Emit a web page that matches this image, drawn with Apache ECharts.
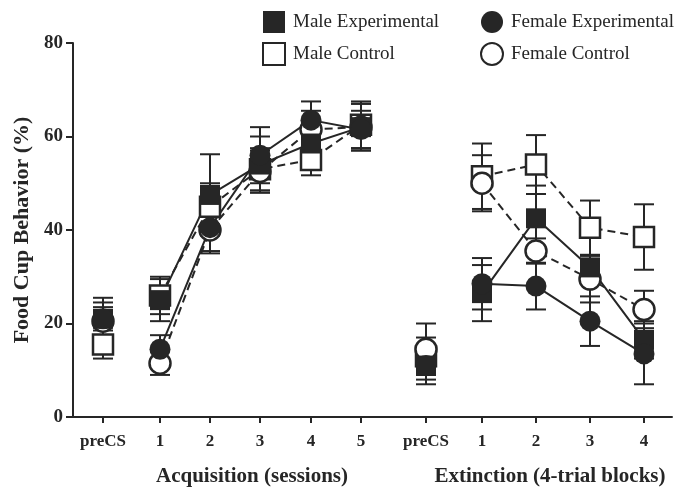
<!DOCTYPE html>
<html>
<head>
<meta charset="utf-8">
<script src="https://cdn.jsdelivr.net/npm/echarts@6/dist/echarts.min.js"></script>
<style>
  html, body { margin: 0; padding: 0; background: #fff; }
  #chart { width: 688px; height: 487px; }
</style>
</head>
<body>
<div id="chart"></div>
<script>
// x positions of the two phases (preCS + sessions / blocks)
var acqX = [0.86, 2, 3, 4, 5.02, 6.02];
var extX = [7.32, 8.44, 9.52, 10.6, 11.68];
var acqLabels = ['preCS', '1', '2', '3', '4', '5'];
var extLabels = ['preCS', '1', '2', '3', '4'];

// means (%) and SEM, acquisition phase
var maleExpAcq = [21, 25, 47.5, 54, 58.5, 62];
var maleExpAcqErr = [4.5, 4.5, 8.7, 6, 4, 5];
var maleCtlAcq = [15.5, 26, 45, 53, 55, 62.5];
var maleCtlAcqErr = [3, 4, 5, 4.5, 3.3, 5];
var femExpAcq = [21, 14.5, 40.5, 56, 63.5, 61.5];
var femExpAcqErr = [3.5, 3, 5, 6, 4, 4];
var femCtlAcq = [20.5, 11.5, 40, 52.5, 61.5, 62];
var femCtlAcqErr = [3, 2.5, 5, 4.5, 4, 5];

// means (%) and SEM, extinction phase
var maleExpExt = [11, 26.5, 42.5, 32, 16.5];
var maleExpExtErr = [4, 6, 7, 2.5, 4];
var maleCtlExt = [13, 51.5, 54, 40.5, 38.5];
var maleCtlExtErr = [4, 7, 6.3, 5.8, 7];
var femExpExt = [11, 28.5, 28, 20.5, 13.5];
var femExpExtErr = [3, 5.5, 5, 5.3, 6.5];
var femCtlExt = [14.5, 50, 35.5, 29.5, 23];
var femCtlExtErr = [5.5, 6, 2.7, 5, 4];

var ink = '#262626';
var serif = '"Liberation Serif", "DejaVu Serif", serif';

var allX = acqX.concat(extX);
var allLabels = acqLabels.concat(extLabels);

var chart = echarts.init(document.getElementById('chart'));

// line data: preCS points are not joined to the session points
function lineData(acq, ext) {
    var d = [[acqX[0], acq[0]], [acqX[0], '-']];
    for (var i = 1; i < acq.length; i++) d.push([acqX[i], acq[i]]);
    d.push([acqX[acq.length - 1], '-']);
    d.push([extX[0], ext[0]], [extX[0], '-']);
    for (var j = 1; j < ext.length; j++) d.push([extX[j], ext[j]]);
    return d;
}

function errData(acq, acqErr, ext, extErr) {
    var d = [];
    for (var i = 0; i < acq.length; i++) d.push([acqX[i], acq[i] - acqErr[i], acq[i] + acqErr[i]]);
    for (var j = 0; j < ext.length; j++) d.push([extX[j], ext[j] - extErr[j], ext[j] + extErr[j]]);
    return d;
}

function errSeries(data) {
    return {
        type: 'custom',
        z: 1,
        silent: true,
        data: data,
        renderItem: function (params, api) {
            var lo = api.coord([api.value(0), api.value(1)]);
            var hi = api.coord([api.value(0), api.value(2)]);
            var w = 10;
            var st = { stroke: ink, lineWidth: 2 };
            return {
                type: 'group',
                children: [
                    { type: 'line', shape: { x1: lo[0], y1: lo[1], x2: hi[0], y2: hi[1] }, style: st },
                    { type: 'line', shape: { x1: lo[0] - w, y1: lo[1], x2: lo[0] + w, y2: lo[1] }, style: st },
                    { type: 'line', shape: { x1: hi[0] - w, y1: hi[1], x2: hi[0] + w, y2: hi[1] }, style: st }
                ]
            };
        },
        encode: { x: 0, y: [1, 2] }
    };
}

function lineSeries(name, symbol, filled, dashed, data) {
    return {
        name: name,
        type: 'line',
        z: 3,
        data: data,
        symbol: symbol,
        symbolSize: symbol === 'rect' ? 20 : 21,
        connectNulls: false,
        lineStyle: { color: ink, width: 2, type: dashed ? [8, 5] : 'solid' },
        itemStyle: {
            color: filled ? ink : '#fff',
            borderColor: ink,
            borderWidth: filled ? 0 : 2.5
        }
    };
}

var legendText = { fontFamily: serif, fontSize: 19, color: ink, padding: [0, 0, 0, 3] };

var option = {
    animation: false,
    backgroundColor: '#fff',
    grid: { left: 73, right: 16, top: 43, bottom: 70, containLabel: false, outerBoundsMode: 'none' },
    legend: [
        {
            left: 257, top: 6, orient: 'vertical', itemGap: 9,
            itemWidth: 22, itemHeight: 22,
            textStyle: legendText,
            data: [{ name: 'Male Experimental', icon: 'rect' }, { name: 'Male Control', icon: 'rect' }]
        },
        {
            left: 475, top: 6, orient: 'vertical', itemGap: 9,
            itemWidth: 22, itemHeight: 22,
            textStyle: legendText,
            data: [{ name: 'Female Experimental', icon: 'circle' }, { name: 'Female Control', icon: 'circle' }]
        }
    ],
    xAxis: {
        type: 'value',
        min: 0.26,
        max: 12.24,
        splitLine: { show: false },
        axisLine: { lineStyle: { color: ink, width: 2 } },
        axisTick: { show: true, customValues: allX, length: 6, lineStyle: { color: ink, width: 2 } },
        axisLabel: {
            customValues: allX,
            margin: 16,
            fontFamily: serif, fontSize: 17, fontWeight: 'bold', color: ink,
            formatter: function (v) {
                var best = 0;
                for (var i = 1; i < allX.length; i++) {
                    if (Math.abs(allX[i] - v) < Math.abs(allX[best] - v)) best = i;
                }
                return allLabels[best];
            }
        }
    },
    yAxis: {
        type: 'value',
        min: 0, max: 80, interval: 20,
        name: 'Food Cup Behavior (%)',
        nameLocation: 'middle',
        nameGap: 40,
        nameRotate: 90,
        nameTextStyle: { fontFamily: serif, fontSize: 22, fontWeight: 'bold', color: ink },
        splitLine: { show: false },
        axisLine: { show: true, lineStyle: { color: ink, width: 2 } },
        axisTick: { show: true, length: 7, lineStyle: { color: ink, width: 2 } },
        axisLabel: { margin: 10, fontFamily: serif, fontSize: 19, fontWeight: 'bold', color: ink }
    },
    graphic: [
        {
            type: 'text', x: 252, y: 477,
            style: { text: 'Acquisition (sessions)', align: 'center', verticalAlign: 'middle', fontFamily: serif, fontSize: 21, fontWeight: 'bold', fill: ink }
        },
        {
            type: 'text', x: 550, y: 477,
            style: { text: 'Extinction (4-trial blocks)', align: 'center', verticalAlign: 'middle', fontFamily: serif, fontSize: 21, fontWeight: 'bold', fill: ink }
        }
    ],
    series: [
        errSeries(errData(maleExpAcq, maleExpAcqErr, maleExpExt, maleExpExtErr)),
        errSeries(errData(maleCtlAcq, maleCtlAcqErr, maleCtlExt, maleCtlExtErr)),
        errSeries(errData(femExpAcq, femExpAcqErr, femExpExt, femExpExtErr)),
        errSeries(errData(femCtlAcq, femCtlAcqErr, femCtlExt, femCtlExtErr)),
        lineSeries('Male Control', 'rect', false, true, lineData(maleCtlAcq, maleCtlExt)),
        lineSeries('Female Control', 'circle', false, true, lineData(femCtlAcq, femCtlExt)),
        lineSeries('Male Experimental', 'rect', true, false, lineData(maleExpAcq, maleExpExt)),
        lineSeries('Female Experimental', 'circle', true, false, lineData(femExpAcq, femExpExt))
    ]
};

chart.setOption(option);
</script>
</body>
</html>
